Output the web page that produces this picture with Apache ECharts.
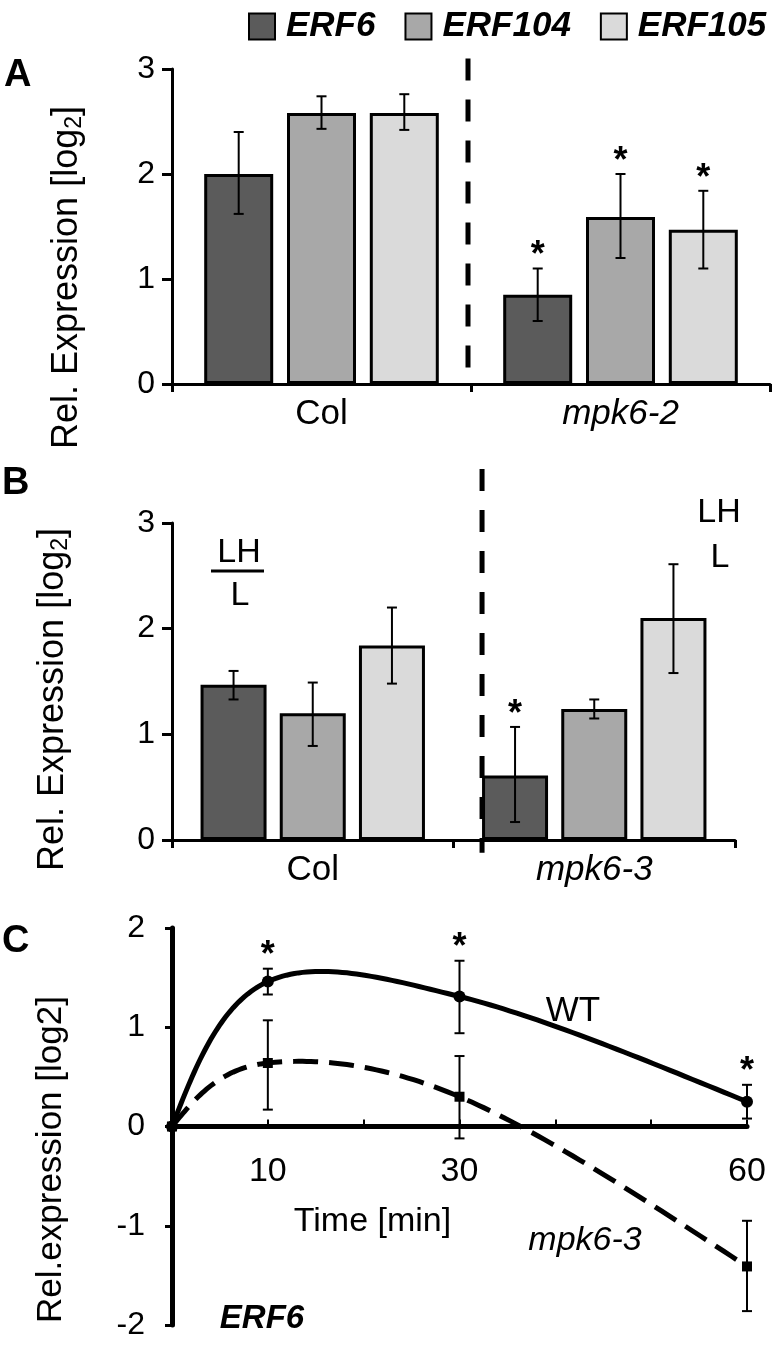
<!DOCTYPE html>
<html><head><meta charset="utf-8">
<script src="https://cdn.jsdelivr.net/npm/echarts@6/dist/echarts.min.js"></script>
<style>html,body{margin:0;padding:0;background:#fff}#c{width:778px;height:1347px}</style>
</head><body><div id="c"></div>
<script>
const FONT = "'Liberation Sans', Arial, Helvetica, sans-serif";

// ---------- data ----------
const genes = ['ERF6', 'ERF104', 'ERF105'];
const geneColors = ['#5b5b5b', '#a8a8a8', '#dadada'];

// Panel A
const catA = ['Col', 'mpk6-2'];
const meanA_ERF6 = [2.00, 0.85];
const meanA_ERF104 = [2.58, 1.59];
const meanA_ERF105 = [2.58, 1.47];
const loA_ERF6 = [1.62, 0.60];
const hiA_ERF6 = [2.40, 1.10];
const loA_ERF104 = [2.43, 1.20];
const hiA_ERF104 = [2.74, 2.00];
const loA_ERF105 = [2.42, 1.10];
const hiA_ERF105 = [2.76, 1.84];
const sigA_ERF6 = [0, 1];
const sigA_ERF104 = [0, 1];
const sigA_ERF105 = [0, 1];

// Panel B
const catB = ['Col', 'mpk6-3'];
const meanB_ERF6 = [1.47, 0.61];
const meanB_ERF104 = [1.20, 1.24];
const meanB_ERF105 = [1.84, 2.10];
const loB_ERF6 = [1.33, 0.17];
const hiB_ERF6 = [1.60, 1.07];
const loB_ERF104 = [0.89, 1.15];
const hiB_ERF104 = [1.49, 1.33];
const loB_ERF105 = [1.48, 1.58];
const hiB_ERF105 = [2.20, 2.61];
const sigB_ERF6 = [0, 1];
const sigB_ERF104 = [0, 0];
const sigB_ERF105 = [0, 0];

// Panel C
const timeMin = [0, 10, 30, 60];
const wtMean = [0, 1.46, 1.31, 0.25];
const wtLo = [0, 1.33, 0.94, 0.08];
const wtHi = [0, 1.59, 1.67, 0.42];
const wtSig = [0, 1, 1, 1];
const mpkMean = [0, 0.64, 0.30, -1.41];
const mpkLo = [0, 0.17, -0.12, -1.86];
const mpkHi = [0, 1.07, 0.71, -0.95];
const mpkSig = [0, 0, 0, 0];

const yTicksAB = [0, 1, 2, 3];
const yTicksC = [-2, -1, 0, 1, 2];
const xTickLabelsC = [10, 30, 60];

// ---------- helpers ----------
const BAR_A = 69, GAP_A = 0.2;
const BAR_B = 66, GAP_B = 0.2;
const GRID_C_H = 397;

function errRender(offset, capHalf, sigDy) {
  return function (params, api) {
    const x0 = api.value(0), lo = api.value(1), hi = api.value(2), sig = api.value(3);
    if (lo === hi) return null;
    const pLo = api.coord([x0, lo]);
    const pHi = api.coord([x0, hi]);
    const x = pLo[0] + offset;
    const st = { stroke: '#000', lineWidth: 2 };
    const ch = [
      { type: 'line', shape: { x1: x, y1: pLo[1], x2: x, y2: pHi[1] }, style: st },
      { type: 'line', shape: { x1: x - capHalf, y1: pLo[1], x2: x + capHalf, y2: pLo[1] }, style: st },
      { type: 'line', shape: { x1: x - capHalf, y1: pHi[1], x2: x + capHalf, y2: pHi[1] }, style: st }
    ];
    if (sig) {
      ch.push({ type: 'text', style: { text: '*', x: x + sigDy[1], y: pHi[1] - sigDy[0], align: 'center', verticalAlign: 'middle',
        font: 'bold 36px ' + FONT, fill: '#000' } });
    }
    return { type: 'group', children: ch };
  };
}

// smooth (spline-like) curve through the data points, computed in pixel space
function curveRender(style) {
  return function (params, api) {
    if (params.dataIndexInside !== 0) return null;
    const n = params.dataInsideLength;
    const P = [];
    for (let j = 0; j < n; j++) P.push(api.coord([api.value(0, j), api.value(1, j)]));
    const M = [];
    for (let j = 0; j < n; j++) {
      if (j > 0 && j < n - 1) M[j] = [(P[j + 1][0] - P[j - 1][0]) * 0.5, (P[j + 1][1] - P[j - 1][1]) * 0.5];
    }
    M[0] = [(3 * (P[1][0] - P[0][0]) - M[1][0]) / 2, (3 * (P[1][1] - P[0][1]) - M[1][1]) / 2];
    M[n - 1] = [(3 * (P[n - 1][0] - P[n - 2][0]) - M[n - 2][0]) / 2, (3 * (P[n - 1][1] - P[n - 2][1]) - M[n - 2][1]) / 2];
    const pts = [];
    for (let j = 0; j < n - 1; j++) {
      const a = P[j], d = P[j + 1];
      const b = [a[0] + M[j][0] / 3, a[1] + M[j][1] / 3];
      const c = [d[0] - M[j + 1][0] / 3, d[1] - M[j + 1][1] / 3];
      for (let k = (j === 0 ? 0 : 1); k <= 40; k++) {
        const t = k / 40, u = 1 - t;
        pts.push([u * u * u * a[0] + 3 * u * u * t * b[0] + 3 * u * t * t * c[0] + t * t * t * d[0],
                  u * u * u * a[1] + 3 * u * u * t * b[1] + 3 * u * t * t * c[1] + t * t * t * d[1]]);
      }
    }
    return { type: 'polyline', shape: { points: pts }, style: Object.assign({ fill: null }, style) };
  };
}

function barSeries(idx, name, mean, gi, bw, gap) {
  return {
    type: 'bar', name: name, xAxisIndex: gi, yAxisIndex: gi, data: mean,
    barWidth: bw, barGap: (gap * 100) + '%',
    itemStyle: { color: geneColors[idx], borderColor: '#000', borderWidth: 3 },
    z: 2
  };
}
function errSeries(g, lo, hi, sig, gi, bw, gap) {
  const off = (g - 1) * bw * (1 + gap);
  return {
    type: 'custom', name: 'err' + gi + '_' + g, xAxisIndex: gi, yAxisIndex: gi,
    renderItem: errRender(off, 5, [12, 0]),
    encode: { x: 0, y: [1, 2] },
    data: lo.map((v, i) => [i, v, hi[i], sig[i]]), z: 5, silent: true
  };
}
function dividerSeries(gi, xFn, topV, botV) {
  return {
    type: 'custom', name: 'div' + gi, xAxisIndex: gi, yAxisIndex: gi, silent: true, z: 6,
    data: [[0]], clip: false,
    renderItem: function (params, api) {
      const p0 = api.coord([0, topV]);
      const p1 = api.coord([1, botV]);
      const c0 = api.coord([0, 0])[0], c1 = api.coord([1, 0])[0];
      const x = xFn(c0, c1);
      return { type: 'line', shape: { x1: x, y1: p0[1], x2: x, y2: p1[1] },
        style: { stroke: '#000', lineWidth: 5, lineDash: [22, 19] } };
    }
  };
}

const axisLineAB = { show: true, onZero: false, lineStyle: { color: '#000', width: 3 } };
const catLabel = (v, i) => i === 1 ? '{it|' + v + '}' : v;

function yAB(gi, nameGap, padR, labelPadTop) {
  return {
    type: 'value', gridIndex: gi, min: yTicksAB[0], max: yTicksAB[yTicksAB.length - 1], interval: 1,
    splitLine: { show: false },
    axisLine: { show: true, lineStyle: { color: '#000', width: 3 } },
    axisTick: { show: true, length: 10, lineStyle: { color: '#000', width: 3 } },
    axisLabel: { fontSize: 32, color: '#000', fontFamily: FONT, margin: 17, padding: [labelPadTop, 0, 0, 0] },
    name: 'Rel. Expression [log{sub|2}]', nameLocation: 'middle', nameGap: nameGap,
    nameTextStyle: { fontSize: 36, color: '#000', fontFamily: FONT, padding: [0, padR, 0, 0],
      rich: { sub: { fontSize: 23, fontFamily: FONT, color: '#000', padding: [14, 0, 0, 0] } } }
  };
}
function xAB(gi, cats) {
  return {
    type: 'category', gridIndex: gi, data: cats,
    axisLine: axisLineAB,
    axisTick: { show: true, length: 8, lineStyle: { color: '#000', width: 3 } },
    axisLabel: { fontSize: 35, color: '#000', fontFamily: FONT, margin: 13, formatter: catLabel,
      rich: { it: { fontSize: 35, fontStyle: 'italic', color: '#000', fontFamily: FONT } } }
  };
}

const option = {
  backgroundColor: '#fff',
  animation: false,
  legend: {
    top: 4, left: 243, width: 560, itemWidth: 26, itemHeight: 26, itemGap: 29, icon: 'rect',
    data: genes,
    textStyle: { fontSize: 35, fontWeight: 'bold', fontStyle: 'italic', color: '#000', fontFamily: FONT, padding: [3, 0, 0, 6] }
  },
  grid: [
    { left: 172, top: 69, width: 598, height: 315, outerBoundsMode: 'none', containLabel: false },
    { left: 172, top: 523, width: 563, height: 317, outerBoundsMode: 'none', containLabel: false },
    { left: 172, top: 928, width: 575, height: GRID_C_H, outerBoundsMode: 'none', containLabel: false }
  ],
  xAxis: [
    xAB(0, catA),
    xAB(1, catB),
    {
      type: 'value', gridIndex: 2, min: 0, max: 60, interval: 10, position: 'bottom',
      offset: -GRID_C_H * (0 - yTicksC[0]) / (yTicksC[yTicksC.length - 1] - yTicksC[0]),
      splitLine: { show: false },
      axisLine: { show: true, onZero: false, lineStyle: { color: '#000', width: 5 } },
      axisTick: { show: true, inside: true, length: 7, lineStyle: { color: '#000', width: 2 } },
      axisLabel: { fontSize: 34, color: '#000', fontFamily: FONT, margin: 28,
        formatter: v => xTickLabelsC.indexOf(v) >= 0 ? String(v) : '' },
      name: 'Time [min]', nameLocation: 'middle', nameGap: 78,
      nameTextStyle: { fontSize: 34, color: '#000', fontFamily: FONT, padding: [0, 174, 0, 0] }
    }
  ],
  yAxis: [
    yAB(0, 86, 102, 18),
    yAB(1, 100, 36, 4),
    {
      type: 'value', gridIndex: 2, min: yTicksC[0], max: yTicksC[yTicksC.length - 1], interval: 1,
      splitLine: { show: false },
      axisLine: { show: true, onZero: false, lineStyle: { color: '#000', width: 5 } },
      axisTick: { show: true, length: 7, lineStyle: { color: '#000', width: 3 } },
      axisLabel: { fontSize: 32, color: '#000', fontFamily: FONT, margin: 27, padding: [20, 0, 0, 0] },
      name: 'Rel.expression [log2]', nameLocation: 'middle', nameGap: 103,
      nameTextStyle: { fontSize: 35, color: '#000', fontFamily: FONT, padding: [0, 66, 0, 0] }
    }
  ],
  graphic: [
    { type: 'text', x: 4, y: 76, style: { text: 'A', font: 'bold 38px ' + FONT, fill: '#000', verticalAlign: 'middle' } },
    { type: 'text', x: 2, y: 484, style: { text: 'B', font: 'bold 38px ' + FONT, fill: '#000', verticalAlign: 'middle' } },
    { type: 'text', x: 2, y: 942, style: { text: 'C', font: 'bold 38px ' + FONT, fill: '#000', verticalAlign: 'middle' } },
    { type: 'text', x: 239, y: 553, style: { text: 'LH', font: '34px ' + FONT, fill: '#000', align: 'center', verticalAlign: 'middle' } },
    { type: 'line', shape: { x1: 211, y1: 571, x2: 264, y2: 571 }, style: { stroke: '#000', lineWidth: 3 } },
    { type: 'text', x: 240, y: 596, style: { text: 'L', font: '34px ' + FONT, fill: '#000', align: 'center', verticalAlign: 'middle' } },
    { type: 'text', x: 719, y: 513, style: { text: 'LH', font: '34px ' + FONT, fill: '#000', align: 'center', verticalAlign: 'middle' } },
    { type: 'text', x: 720, y: 558, style: { text: 'L', font: '34px ' + FONT, fill: '#000', align: 'center', verticalAlign: 'middle' } },
    { type: 'text', x: 573, y: 1011, style: { text: 'WT', font: '35px ' + FONT, fill: '#000', align: 'center', verticalAlign: 'middle' } },
    { type: 'text', x: 585, y: 1241, style: { text: 'mpk6-3', font: 'italic 34px ' + FONT, fill: '#000', align: 'center', verticalAlign: 'middle' } },
    { type: 'text', x: 262, y: 1319, style: { text: 'ERF6', font: 'italic bold 33px ' + FONT, fill: '#000', align: 'center', verticalAlign: 'middle' } }
  ],
  series: [
    barSeries(0, genes[0], meanA_ERF6, 0, BAR_A, GAP_A),
    barSeries(1, genes[1], meanA_ERF104, 0, BAR_A, GAP_A),
    barSeries(2, genes[2], meanA_ERF105, 0, BAR_A, GAP_A),
    errSeries(0, loA_ERF6, hiA_ERF6, sigA_ERF6, 0, BAR_A, GAP_A),
    errSeries(1, loA_ERF104, hiA_ERF104, sigA_ERF104, 0, BAR_A, GAP_A),
    errSeries(2, loA_ERF105, hiA_ERF105, sigA_ERF105, 0, BAR_A, GAP_A),
    dividerSeries(0, (c0, c1) => (c0 + c1) / 2 - 3, 3.1, 0.12),

    barSeries(0, genes[0], meanB_ERF6, 1, BAR_B, GAP_B),
    barSeries(1, genes[1], meanB_ERF104, 1, BAR_B, GAP_B),
    barSeries(2, genes[2], meanB_ERF105, 1, BAR_B, GAP_B),
    errSeries(0, loB_ERF6, hiB_ERF6, sigB_ERF6, 1, BAR_B, GAP_B),
    errSeries(1, loB_ERF104, hiB_ERF104, sigB_ERF104, 1, BAR_B, GAP_B),
    errSeries(2, loB_ERF105, hiB_ERF105, sigB_ERF105, 1, BAR_B, GAP_B),
    dividerSeries(1, (c0, c1) => c1 - BAR_B * (1 + GAP_B) - BAR_B / 2, 3.51, -0.12),

    {
      type: 'custom', name: 'WT', xAxisIndex: 2, yAxisIndex: 2, silent: true, z: 4, clip: false,
      encode: { x: 0, y: 1 },
      data: timeMin.map((t, i) => [t, wtMean[i]]),
      renderItem: curveRender({ stroke: '#000', lineWidth: 5, lineJoin: 'round' })
    },
    {
      type: 'custom', name: 'mpk6-3', xAxisIndex: 2, yAxisIndex: 2, silent: true, z: 4, clip: false,
      encode: { x: 0, y: 1 },
      data: timeMin.map((t, i) => [t, mpkMean[i]]),
      renderItem: curveRender({ stroke: '#000', lineWidth: 5, lineDash: [25, 11] })
    },
    {
      type: 'scatter', name: 'WT points', xAxisIndex: 2, yAxisIndex: 2, silent: true, z: 6,
      symbol: 'circle', symbolSize: 12, itemStyle: { color: '#000', opacity: 1 },
      data: timeMin.map((t, i) => [t, wtMean[i]])
    },
    {
      type: 'scatter', name: 'mpk6-3 points', xAxisIndex: 2, yAxisIndex: 2, silent: true, z: 6,
      symbol: 'rect', symbolSize: 10, itemStyle: { color: '#000', opacity: 1 },
      data: timeMin.map((t, i) => [t, mpkMean[i]])
    },
    {
      type: 'custom', name: 'errWT', xAxisIndex: 2, yAxisIndex: 2, silent: true, z: 5,
      renderItem: errRender(0, 5, [13, 0]), encode: { x: 0, y: [1, 2] },
      data: timeMin.map((t, i) => [t, wtLo[i], wtHi[i], wtSig[i]])
    },
    {
      type: 'custom', name: 'errMpk', xAxisIndex: 2, yAxisIndex: 2, silent: true, z: 5,
      renderItem: errRender(0, 5, [13, 0]), encode: { x: 0, y: [1, 2] },
      data: timeMin.map((t, i) => [t, mpkLo[i], mpkHi[i], mpkSig[i]])
    }
  ]
};

const chart = echarts.init(document.getElementById('c'), null, { renderer: 'canvas' });
chart.setOption(option);
</script>
</body></html>
